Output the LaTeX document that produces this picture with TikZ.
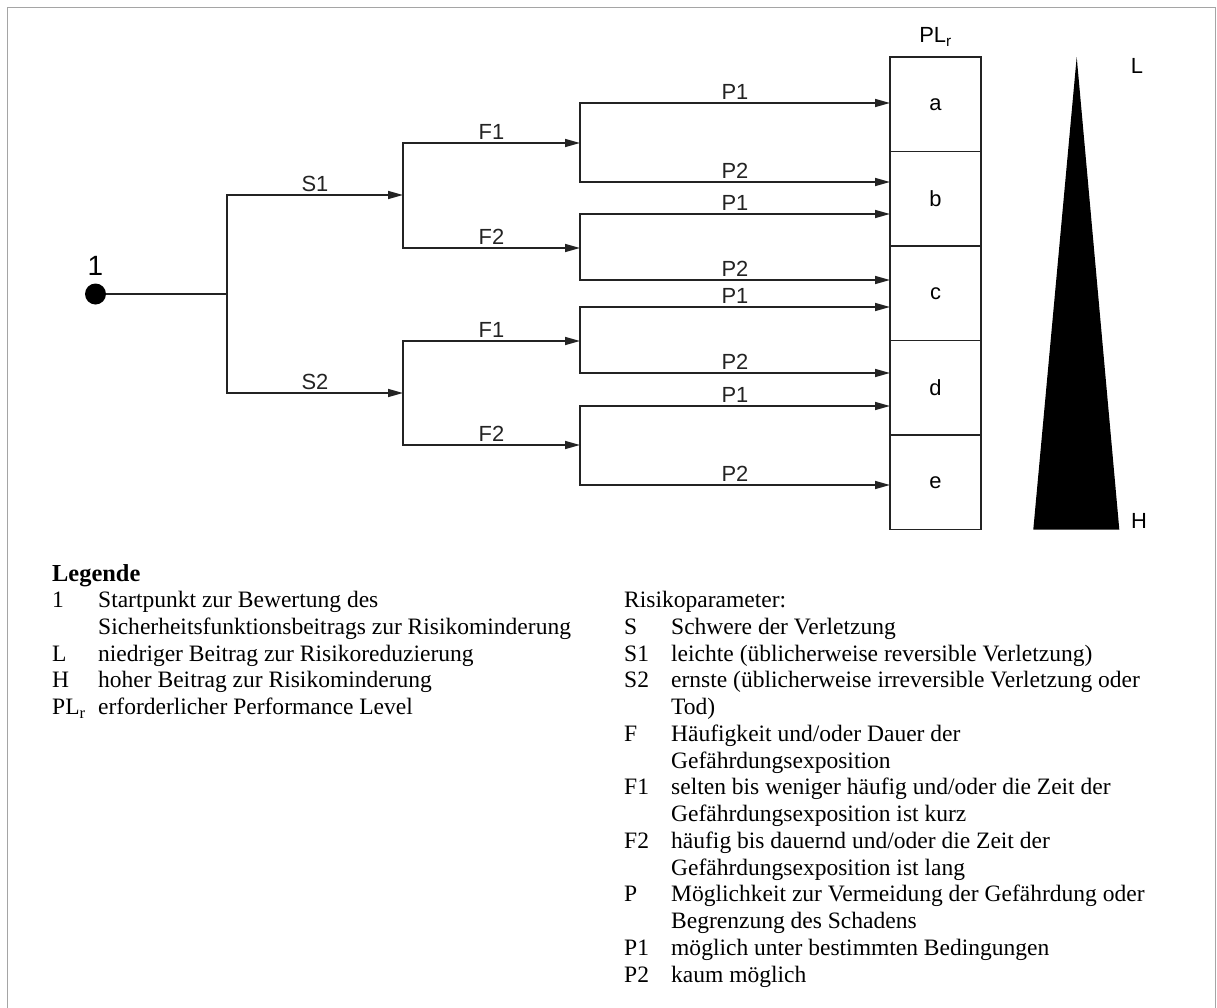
\documentclass[tikz,border=0pt]{standalone}
\usepackage{fontspec}
\setmainfont{Liberation Serif}
\newfontfamily\diagfont{Liberation Sans}
\usetikzlibrary{positioning,arrows.meta}
\definecolor{LineGray}{RGB}{35,35,35}
\definecolor{FrameGray}{RGB}{165,165,165}

\begin{document}
\begin{tikzpicture}[x=1bp, y=-1bp,
  every node/.style={font=\diagfont\fontsize{22}{25}\selectfont},
  conn/.style={line width=1.6bp, LineGray},
  arr/.style={conn, -{Triangle[length=15bp,width=8bp]}},
  lbl/.style={above, inner sep=2.5bp, pos=0.75},
  plbox/.style={draw=LineGray, line width=1.4bp, minimum width=91bp, minimum height=94.5bp, inner sep=0pt},
  legtxt/.style={anchor=base west, inner sep=0pt, font=\rmfamily\fontsize{23.6}{26.75}\selectfont}]
  \useasboundingbox (0,0) rectangle (1217,1008);
  \draw[FrameGray, line width=1.5bp] (7.5,1030) -- (7.5,7.5) -- (1215.5,7.5) -- (1215.5,1030);

  % start point and S branches
  \node[circle, fill=black, inner sep=0pt, minimum size=21bp] (start) at (95.5,294) {};
  \node[above=8bp of start, inner sep=0pt, font=\diagfont\fontsize{28}{32}\selectfont] (one) {1};
  \coordinate (s) at (227,294);
  \coordinate (s1) at (403,195);
  \coordinate (s2) at (403,393);
  \draw[conn] (start) -- (s);
  \draw[arr] (s) |- node[lbl] {S1} (s1);
  \draw[arr] (s) |- node[lbl] {S2} (s2);

  % F branches
  \coordinate (f11) at (580,143);
  \coordinate (f12) at (580,248);
  \coordinate (f21) at (580,341);
  \coordinate (f22) at (580,445);
  \draw[arr] (s1) |- node[lbl] {F1} (f11);
  \draw[arr] (s1) |- node[lbl] {F2} (f12);
  \draw[arr] (s2) |- node[lbl] {F1} (f21);
  \draw[arr] (s2) |- node[lbl] {F2} (f22);

  % P branches into PLr
  \foreach \f/\ya/\yb in {f11/103/182, f12/214/280, f21/307/373, f22/406/485} {
    \coordinate (\f a) at (890,\ya);
    \coordinate (\f b) at (890,\yb);
    \draw[arr] (\f) |- node[lbl] {P1} (\f a);
    \draw[arr] (\f) |- node[lbl] {P2} (\f b);
  }

  % PLr column
  \foreach \n/\y in {a/104.25, b/198.75, c/293.25, d/387.75, e/482.25}
    \node[plbox] (pl\n) at (935.5,\y) {\n};
  \node (plr) at (935.5,37) {PL\textsubscript{r}};

  % risk wedge
  \fill[black] (1076.7,57) -- (1119.3,529.5) -- (1033.3,529.5) -- cycle;
  \node (lowl) at (1137,66) {L};
  \node (highl) at (1139,521) {H};

  % legend
  \node[legtxt, font=\rmfamily\bfseries\fontsize{24.5}{28}\selectfont] (leg) at (52,581.5) {Legende};
  \foreach \i/\k/\t in {0/1/Startpunkt zur Bewertung des,
      1//Sicherheitsfunktionsbeitrags zur Risikominderung,
      2/L/niedriger Beitrag zur Risikoreduzierung,
      3/H/hoher Beitrag zur Risikominderung,
      4/{PL\textsubscript{r}}/erforderlicher Performance Level} {
    \node[legtxt] (lk\i) at (52,607.5+26.75*\i) {\k};
    \node[legtxt] (lt\i) at (98,607.5+26.75*\i) {\t};
  }
  \node[legtxt] (rpar) at (624,607.5) {Risikoparameter:};
  \foreach \i/\k/\t in {1/S/Schwere der Verletzung,
      2/S1/leichte (üblicherweise reversible Verletzung),
      3/S2/ernste (üblicherweise irreversible Verletzung oder,
      4//Tod),
      5/F/{Häufigkeit und/oder Dauer der},
      6//Gefährdungsexposition,
      7/F1/{selten bis weniger häufig und/oder die Zeit der},
      8//Gefährdungsexposition ist kurz,
      9/F2/{häufig bis dauernd und/oder die Zeit der},
      10//Gefährdungsexposition ist lang,
      11/P/Möglichkeit zur Vermeidung der Gefährdung oder,
      12//Begrenzung des Schadens,
      13/P1/möglich unter bestimmten Bedingungen,
      14/P2/kaum möglich} {
    \node[legtxt] (rk\i) at (624,607.5+26.75*\i) {\k};
    \node[legtxt] (rt\i) at (671,607.5+26.75*\i) {\t};
  }
\end{tikzpicture}
\end{document}
